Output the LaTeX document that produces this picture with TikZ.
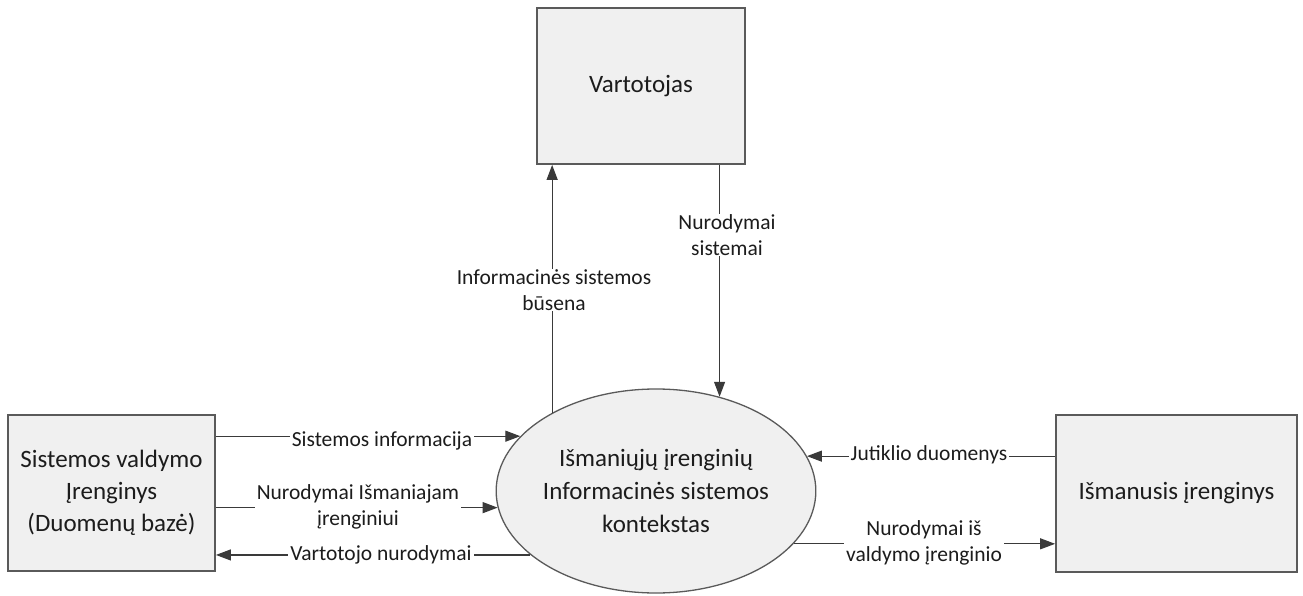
\documentclass[tikz,border=0pt]{standalone}
\usepackage{fontspec}
\setmainfont{Carlito}
\usetikzlibrary{arrows.meta,shapes.geometric}
\definecolor{boxfill}{HTML}{F0F0F0}
\definecolor{boxline}{HTML}{5A5A5A}
\definecolor{flowline}{HTML}{3A3A3A}
\definecolor{txt}{HTML}{1C1C1C}
\begin{document}
\begin{tikzpicture}[x=1pt,y=-1pt,
  entity/.style={draw=boxline,line width=1.8pt,fill=boxfill,text=txt,
    align=center,inner sep=0pt,font=\fontsize{25}{32}\selectfont},
  process/.style={ellipse,draw=boxline,line width=1.3pt,fill=boxfill,text=txt,
    align=center,inner sep=0pt,minimum width=312pt,minimum height=204pt,
    font=\fontsize{25}{33}\selectfont},
  flow/.style={draw=flowline,line width=1.2pt,-{Triangle[length=15pt,width=11pt]}},
  lab/.style={fill=white,text=txt,align=center,inner xsep=2pt,inner ysep=1pt,
    font=\fontsize{21.5}{25.5}\selectfont}]
\useasboundingbox (0,0) rectangle (1303,596);

% external entities and the context process
\node[entity,minimum width=208pt,minimum height=156pt] (usr) at (641,86) {Vartotojas};
\node[entity,minimum width=207pt,minimum height=156pt] (ctl) at (111.5,493)
  {Sistemos valdymo\\Įrenginys\\(Duomenų bazė)};
\node[entity,minimum width=241pt,minimum height=157pt] (dev) at (1176.5,493.5)
  {Išmanusis įrenginys};
\node[process] (ctx) at (656,491)
  {Išmaniųjų įrenginių\\Informacinės sistemos\\kontekstas};

% data flows
\draw[flow] (ctx.143.4) -- (ctx.143.4 |- usr.south);
\draw[flow] (ctx.56.5 |- usr.south) -- (ctx.56.5);
\draw[flow] (ctx.158.8 -| ctl.east) -- (ctx.158.8);
\draw[flow] (ctx.186.3 -| ctl.east) -- (ctx.186.3);
\draw[flow] (ctx.207.2) -- (ctx.207.2 -| ctl.east);
\draw[flow] (ctx.13.85 -| dev.west) -- (ctx.13.85);
\draw[flow] (ctx.-21.68) -- (ctx.-21.68 -| dev.west);

% flow labels
\node[lab] (l1) at (554,290) {Informacinės sistemos\\būsena};
\node[lab] (l2) at (727,235) {Nurodymai\\sistemai};
\node[lab] (l3) at (382,441) {Sistemos informacija};
\node[lab] (l4) at (358,507) {Nurodymai Išmaniajam\\įrenginiui};
\node[lab] (l5) at (381,555) {Vartotojo nurodymai};
\node[lab] (l6) at (929,455) {Jutiklio duomenys};
\node[lab] (l7) at (924,543) {Nurodymai iš\\valdymo įrenginio};
\end{tikzpicture}
\end{document}
